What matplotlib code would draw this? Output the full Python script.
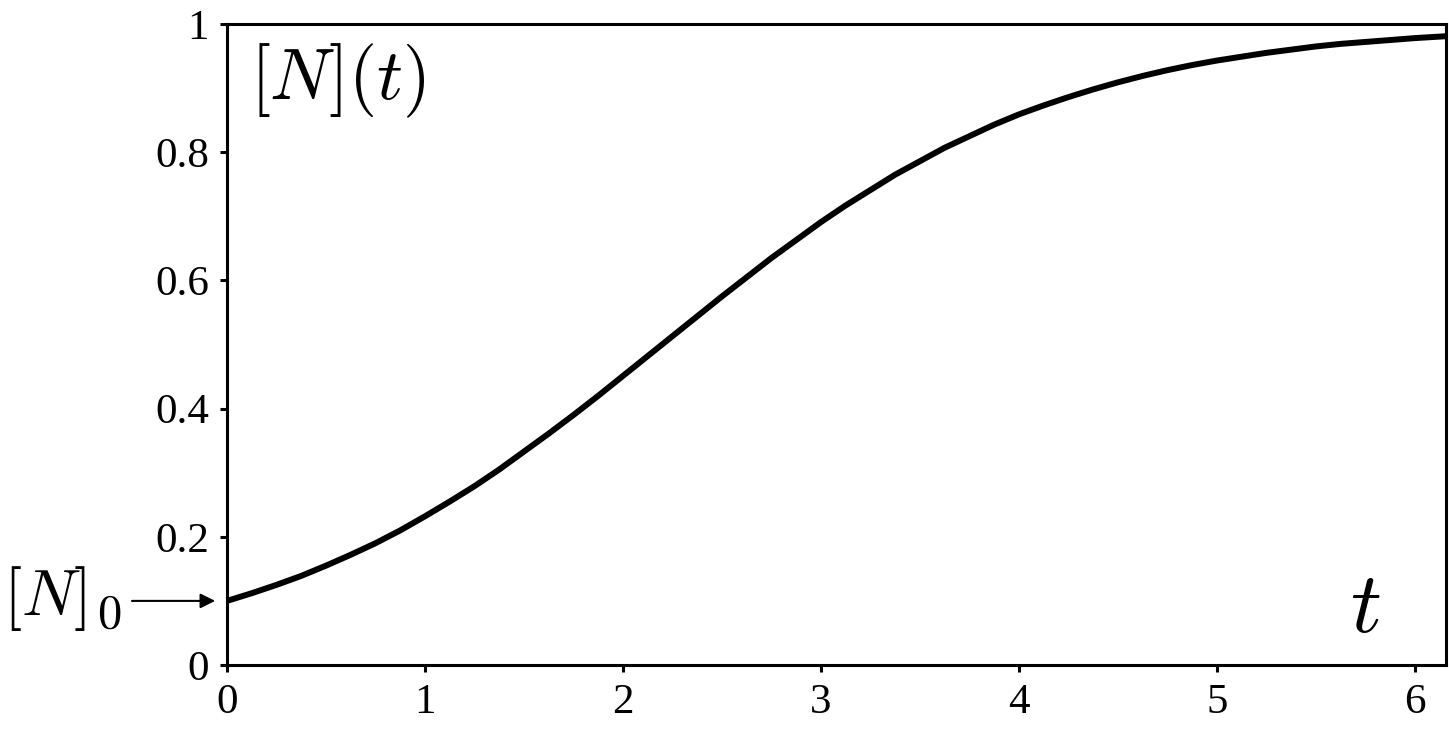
import matplotlib
matplotlib.use("Agg")
import matplotlib.pyplot as plt

t_vals = [0.0, 0.125, 0.25, 0.375, 0.5, 0.625, 0.75, 0.875, 1.0, 1.125, 1.25, 1.375,
          1.5, 1.625, 1.75, 1.875, 2.0, 2.125, 2.25, 2.375, 2.5, 2.625, 2.75, 2.875,
          3.0, 3.125, 3.25, 3.375, 3.5, 3.625, 3.75, 3.875, 4.0, 4.125, 4.25, 4.375,
          4.5, 4.625, 4.75, 4.875, 5.0, 5.125, 5.25, 5.375, 5.5, 5.625, 5.75, 5.875,
          6.0, 6.16]
n_vals = [0.100, 0.112, 0.125, 0.139, 0.155, 0.172, 0.190, 0.210, 0.232, 0.255,
          0.279, 0.305, 0.333, 0.361, 0.390, 0.420, 0.451, 0.482, 0.513, 0.544,
          0.575, 0.605, 0.635, 0.663, 0.691, 0.717, 0.741, 0.765, 0.786, 0.807,
          0.825, 0.843, 0.859, 0.873, 0.886, 0.898, 0.909, 0.919, 0.928, 0.936,
          0.943, 0.949, 0.955, 0.960, 0.965, 0.969, 0.972, 0.975, 0.978, 0.981]
x_ticks = [0, 1, 2, 3, 4, 5, 6]
y_ticks = [0, 0.2, 0.4, 0.6, 0.8, 1]
y_tick_labels = ["0", "0.2", "0.4", "0.6", "0.8", "1"]
n0 = 0.1

plt.rcParams['font.family'] = ['Liberation Serif', 'DejaVu Serif']
plt.rcParams['mathtext.fontset'] = 'cm'

fig = plt.figure(figsize=(14.49, 7.29), dpi=100)
ax = fig.add_axes([227/1449, 64/729, (1446-227)/1449, (665-24)/729])
ax.plot(t_vals, n_vals, color='black', lw=4.3, solid_joinstyle='round',
        solid_capstyle='butt')
ax.set_xlim(0, 6.157)
ax.set_ylim(0, 1)
ax.set_xticks(x_ticks)
ax.set_xticklabels([str(v) for v in x_ticks])
ax.set_yticks(y_ticks)
ax.set_yticklabels(y_tick_labels)
for s in ax.spines.values():
    s.set_linewidth(2.2)
ax.tick_params(direction='out', length=5, width=2.2, labelsize=31, pad=8)

ax.text(0.019, 0.972, r'$[N](t)$', transform=ax.transAxes, fontsize=52,
        ha='left', va='top')
ax.text(0.9335, 0.0515, r'$t$', transform=ax.transAxes, fontsize=62,
        ha='center', va='baseline')
ax.text(-1.131, 0.103, r'$[N]$', fontsize=47, ha='left', va='center',
        clip_on=False)
ax.text(-0.657, 0.0577, r'$0$', fontsize=35, ha='left', va='baseline',
        clip_on=False)
ax.annotate('', xy=(-0.06, n0), xytext=(-0.48, n0), annotation_clip=False,
            arrowprops=dict(arrowstyle='-|>', color='black', lw=1.5,
                            mutation_scale=22, shrinkA=0, shrinkB=0))
fig.savefig('out.png', dpi=100)
